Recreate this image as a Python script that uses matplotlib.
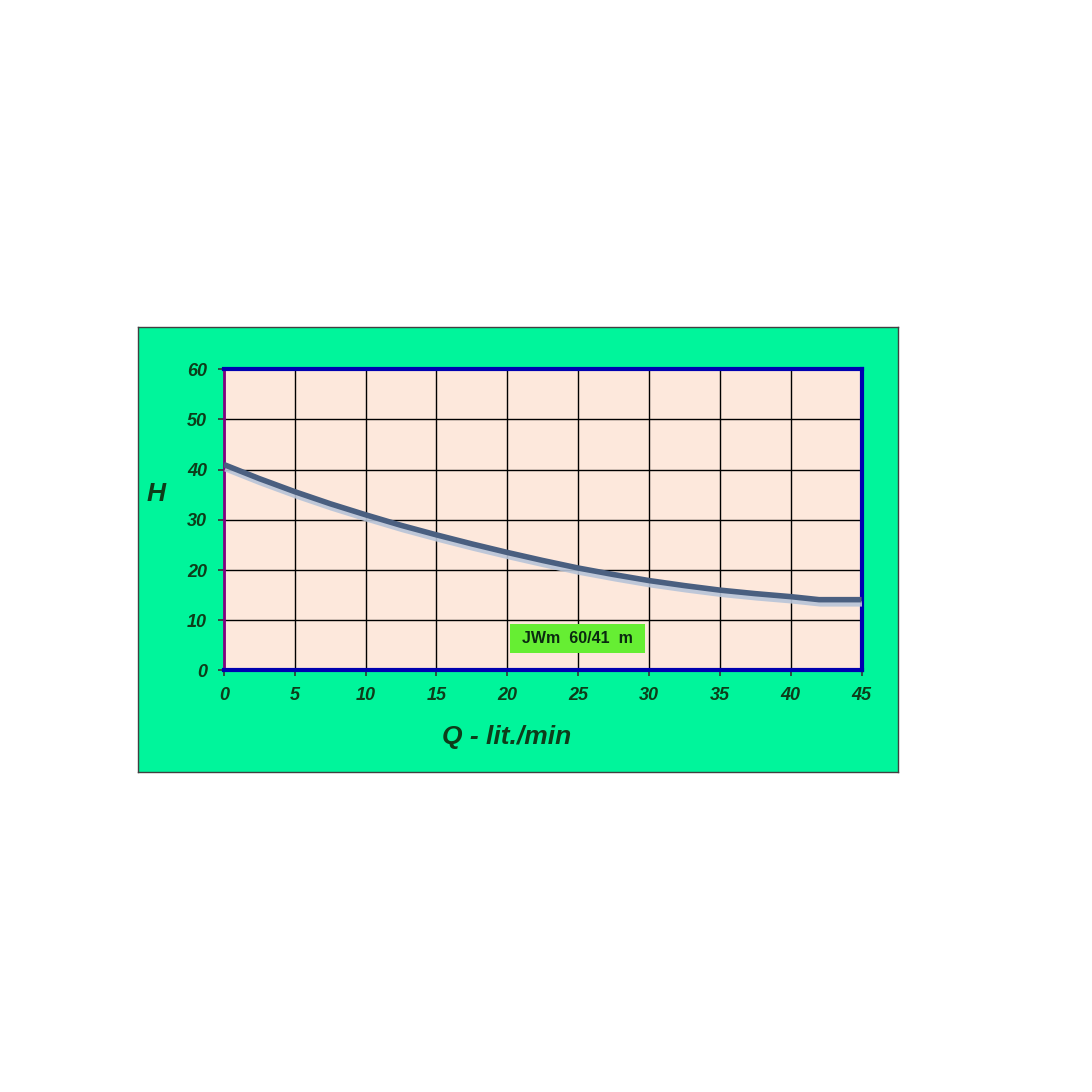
import matplotlib.pyplot as plt
from matplotlib.patches import Rectangle
import matplotlib.patheffects as pe

# pump curve
q_vals = [0, 2.5, 5, 7.5, 10, 12.5, 15, 17.5, 20, 22.5, 25, 27.5, 30, 32.5, 35, 37.5, 40, 42, 45]
h_vals = [41, 38.2, 35.6, 33.2, 31.0, 28.9, 27.0, 25.2, 23.5, 21.9, 20.4, 19.1, 17.9, 16.9, 16.0, 15.3, 14.7, 14.1, 14.1]
x_ticks = [0, 5, 10, 15, 20, 25, 30, 35, 40, 45]
y_ticks = [0, 10, 20, 30, 40, 50, 60]
label = 'JWm  60/41  m'

GREEN_BG = '#00f59b'
PLOT_BG = '#fde8dc'
TICK_C = '#0d3d1a'
BLUE = '#0000b0'
FONT = 'Liberation Sans'

fig = plt.figure(figsize=(10.92, 10.92), dpi=100)
fig.patch.set_facecolor('white')

# green panel
panel = fig.add_axes([0.126, 0.293, 0.696, 0.408])
panel.set_facecolor(GREEN_BG)
panel.set_xticks([]); panel.set_yticks([])
for s in panel.spines.values():
    s.set_color('#404040'); s.set_linewidth(1.0)

ax = fig.add_axes([0.205, 0.386, 0.584, 0.276])
ax.set_facecolor(PLOT_BG)
ax.set_xlim(0, 45); ax.set_ylim(0, 60)
ax.set_xticks(x_ticks); ax.set_yticks(y_ticks)
ax.grid(True, color='black', linewidth=1.0)
ax.set_axisbelow(True)
for side in ['top', 'right', 'bottom']:
    ax.spines[side].set_color(BLUE); ax.spines[side].set_linewidth(3)
ax.spines['left'].set_color('#800080'); ax.spines['left'].set_linewidth(2)
ax.tick_params(length=4, width=1.2, color='#333333', pad=8)
for t in ax.get_xticklabels() + ax.get_yticklabels():
    t.set_fontsize(13); t.set_fontweight('bold'); t.set_fontstyle('italic')
    t.set_color(TICK_C); t.set_family(FONT)

ax.plot(q_vals, h_vals, color='#4a5f80', linewidth=4, solid_capstyle='butt',
        path_effects=[pe.SimpleLineShadow(offset=(1, -3), shadow_color='#b8c4d8', alpha=0.9),
                      pe.Normal()], zorder=5)

ax.add_patch(Rectangle((20.2, 3.5), 9.5, 5.8, facecolor='#66ee33', edgecolor='none', zorder=6))
ax.text(24.95, 6.4, label, ha='center', va='center', fontsize=11.5, fontweight='bold',
        color='#0a2a10', family=FONT, zorder=7)

fig.text(0.143, 0.548, 'H', fontsize=19, fontweight='bold', fontstyle='italic',
         color=TICK_C, ha='center', va='center', family=FONT)
fig.text(0.464, 0.325, 'Q - lit./min', fontsize=19, fontweight='bold', fontstyle='italic',
         color=TICK_C, ha='center', va='center', family=FONT)

fig.savefig('out.png', dpi=100, facecolor='white')
